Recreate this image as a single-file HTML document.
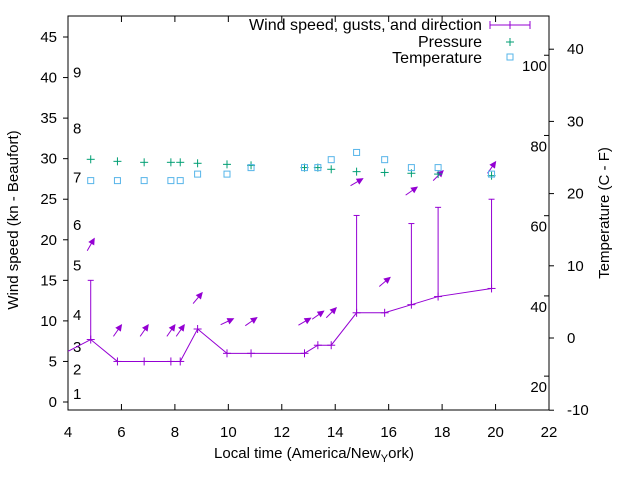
<!DOCTYPE html>
<html><head><meta charset="utf-8"><style>
body{margin:0;background:#fff}
svg{display:block;font-family:"Liberation Sans",Arial,sans-serif}
</style></head><body>
<svg id="chart" width="640" height="480" viewBox="0 0 640 480" xmlns="http://www.w3.org/2000/svg">
<rect width="640" height="480" fill="#fff"/>
<g id="axes"></g>
<g id="series"></g>
<g id="legend">
  <text x="482" y="30" font-size="16" text-anchor="end" textLength="233" lengthAdjust="spacingAndGlyphs">Wind speed, gusts, and direction</text>
  <g stroke="#9400d3" stroke-width="1">
    <line x1="490" y1="25" x2="530" y2="25"/><line x1="490" y1="21" x2="490" y2="29"/><line x1="530" y1="21" x2="530" y2="29"/><line x1="510" y1="21" x2="510" y2="29"/>
  </g>
  <text x="482" y="47" font-size="16" text-anchor="end">Pressure</text>
  <g stroke="#009e73"><line x1="506" y1="42" x2="514" y2="42"/><line x1="510" y1="38" x2="510" y2="46"/></g>
  <text x="482" y="63" font-size="16" text-anchor="end">Temperature</text>
  <rect x="507" y="54" width="6" height="6" fill="none" stroke="#56b4e9"/>
</g>
</svg>
<script>
const times=[3.85,4.85,5.85,6.85,7.85,8.2,8.85,9.95,10.85,12.85,13.35,13.85,14.8,15.85,16.85,17.85,19.85];
const windSpeed=[6,7.7,5,5,5,5,9,6,6,6,7,7,11,11,12,13,14];
const gusts=[null,15,null,null,null,null,null,null,null,null,null,null,23,null,22,24,25];
const pressure=[null,29.92,29.67,29.55,29.55,29.55,29.43,29.3,29.18,28.9,28.9,28.69,28.4,28.3,28.2,28.1,27.9];
const tempC=[null,21.8,21.8,21.8,21.8,21.8,22.7,22.7,23.6,23.6,23.6,24.7,25.7,24.7,23.6,23.6,22.7];
const arrowY=[null,19.4,8.8,8.8,8.8,8.8,12.8,9.9,9.9,9.9,10.7,11,27.1,14.8,26,27.9,28.9];
const arrowAngle=[null,60,55,55,55,55,50,25,35,30,35,45,30,40,35,45,55];
const xTicks=[4,6,8,10,12,14,16,18,20,22];
const yTicks=[0,5,10,15,20,25,30,35,40,45];
const cTicks=[-10,0,10,20,30,40];
const fTicks=[20,40,60,80,100];
const bftLabels=[1,2,3,4,5,6,7,8,9];
const bftY=[1,4,6.8,10.7,16.8,21.8,27.7,33.7,40.6];

const X0=68,X1=549,Y0=410,Y1=16;
const x=t=>X0+(t-4)*(X1-X0)/18;
const y=v=>402-v*8.111;
const yc=c=>338-c*7.22;
const yf=f=>yc((f-32)*5/9);
const NS="http://www.w3.org/2000/svg";
function mk(p,tag,a){const e=document.createElementNS(NS,tag);for(const k in a)e.setAttribute(k,a[k]);p.appendChild(e);return e;}
const ax=document.getElementById('axes'),se=document.getElementById('series');

let e=mk(ax,'rect',{x:X0,y:Y1,width:X1-X0,height:Y0-Y1,fill:'none',stroke:'#000'});


xTicks.forEach(t=>{
  mk(ax,'line',{x1:x(t),y1:Y0,x2:x(t),y2:Y0-6,stroke:'#000'});
  mk(ax,'line',{x1:x(t),y1:Y1,x2:x(t),y2:Y1+6,stroke:'#000'});
  const l=mk(ax,'text',{x:x(t),y:437,'font-size':15,'text-anchor':'middle'});l.textContent=t;
  
  
});
yTicks.forEach(v=>{
  mk(ax,'line',{x1:X0,y1:y(v),x2:X0-5,y2:y(v),stroke:'#000'});
  const l=mk(ax,'text',{x:57,y:y(v)+5,'font-size':15,'text-anchor':'end'});l.textContent=v;
  
  
});
cTicks.forEach(c=>{
  mk(ax,'line',{x1:X1,y1:yc(c),x2:X1+5,y2:yc(c),stroke:'#000'});
  const l=mk(ax,'text',{x:567,y:yc(c)+5,'font-size':15});l.textContent=c;
  
  
});
fTicks.forEach(f=>{
  mk(ax,'line',{x1:X1,y1:yf(f)-10,x2:X1-5,y2:yf(f)-10,stroke:'#000'});
  const l=mk(ax,'text',{x:547,y:yf(f)+6,'font-size':15,'text-anchor':'end'});l.textContent=f;
  
  
});
bftLabels.forEach((b,i)=>{
  const l=mk(ax,'text',{x:73,y:y(bftY[i])+5,'font-size':15});l.textContent=b;
  
  
});
let t1=mk(ax,'text',{x:0,y:0,'font-size':15,'text-anchor':'middle',transform:'translate(18,220) rotate(-90)'});t1.textContent='Wind speed (kn - Beaufort)';


let t2=mk(ax,'text',{x:0,y:0,'font-size':15,'text-anchor':'middle',transform:'translate(609,213) rotate(-90)'});t2.textContent='Temperature (C - F)';


let t3=mk(ax,'text',{x:314,y:458,'font-size':15,'text-anchor':'middle'});
t3.innerHTML='Local time (America/New<tspan font-size="11" dy="4">Y</tspan><tspan dy="-4">ork)</tspan>';



const cp=mk(se,'clipPath',{id:'cp'});mk(cp,'rect',{x:X0,y:Y1,width:X1-X0,height:Y0-Y1});
const g=mk(se,'g',{'clip-path':'url(#cp)'});
const wl=mk(g,'polyline',{points:times.map((t,i)=>x(t)+','+y(windSpeed[i])).join(' '),fill:'none',stroke:'#9400d3'});


times.forEach((t,i)=>{
  const px=x(t),py=y(windSpeed[i]);
  const m=mk(g,'g',{stroke:'#9400d3'});
  
  
  mk(m,'line',{x1:px-4,y1:py,x2:px+4,y2:py});mk(m,'line',{x1:px,y1:py-4,x2:px,y2:py+4});
  if(gusts[i]!=null){
    const gy=y(gusts[i]);
    mk(m,'line',{x1:px,y1:py,x2:px,y2:gy});mk(m,'line',{x1:px-3,y1:gy,x2:px+3,y2:gy});
  }
  if(arrowY[i]!=null){
    const a=arrowAngle[i]*Math.PI/180,L=14,cx=px,cy=y(arrowY[i]);
    const dx=Math.cos(a)*L/2,dy=-Math.sin(a)*L/2;
    const hx=cx+dx,hy=cy+dy;
    const ar=mk(g,'g',{stroke:'#9400d3',fill:'#9400d3'});
    
    
    mk(ar,'line',{x1:cx-dx,y1:cy-dy,x2:hx,y2:hy});
    const b=Math.atan2(dy,dx),h=6,w=0.45;
    mk(ar,'polygon',{points:`${hx},${hy} ${hx-h*Math.cos(b-w)},${hy-h*Math.sin(b-w)} ${hx-h*Math.cos(b+w)},${hy-h*Math.sin(b+w)}`});
  }
  if(pressure[i]!=null){
    const p=mk(g,'g',{stroke:'#009e73'});
    
    
    const qy=y(pressure[i]);
    mk(p,'line',{x1:px-4,y1:qy,x2:px+4,y2:qy});mk(p,'line',{x1:px,y1:qy-4,x2:px,y2:qy+4});
  }
  if(tempC[i]!=null){
    const r=mk(g,'rect',{x:px-3,y:yc(tempC[i])-3,width:6,height:6,fill:'none',stroke:'#56b4e9'});
    
    
  }
});
</script>
</body></html>
